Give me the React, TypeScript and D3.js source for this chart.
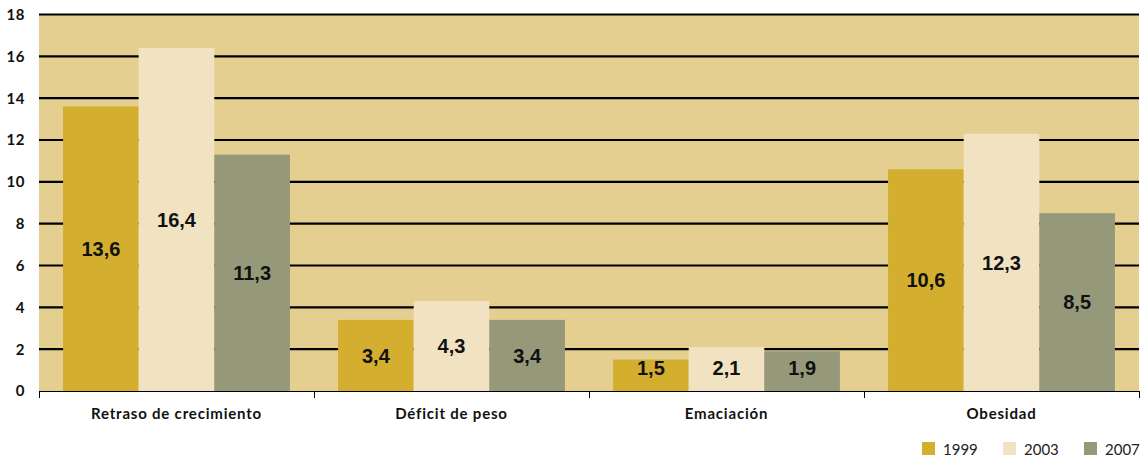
import React from "react";
import * as d3 from "d3";

const categories = ["Retraso de crecimiento", "Déficit de peso", "Emaciación", "Obesidad"];
const seriesNames = ["1999", "2003", "2007"];
const values1999 = [13.6, 3.4, 1.5, 10.6];
const values2003 = [16.4, 4.3, 2.1, 12.3];
const values2007 = [11.3, 3.4, 1.9, 8.5];
const yTicks = [0, 2, 4, 6, 8, 10, 12, 14, 16, 18];
const colors = ["#D4AE2E", "#F1E3C2", "#95997A"];

const W = 1141;
const H = 460;
const margin = { left: 39, right: 2, top: 14.5, bottom: 69 };

export default function App() {
  const series = [values1999, values2003, values2007];
  const x0 = d3
    .scaleBand<string>()
    .domain(categories)
    .range([margin.left, W - margin.right])
    .paddingInner(0.175)
    .paddingOuter(0.0875);
  const step = (W - margin.right - margin.left) / categories.length;
  const x1 = d3.scaleBand<string>().domain(seriesNames).range([0, x0.bandwidth()]);
  const y = d3.scaleLinear().domain([0, 18]).range([H - margin.bottom, margin.top]);
  const fmt = (v: number) => d3.format(".1f")(v).replace(".", ",");
  const catStart = (i: number) => margin.left + i * step;

  return (
    <svg width={W} height={H} style={{ position: "absolute", left: 0, top: 0 }}>
      <rect x={margin.left} y={y(18)} width={W - margin.right - margin.left} height={y(0) - y(18)} fill="#E4CF91" />
      {yTicks.filter((t) => t > 0).map((t) => (
        <line key={t} x1={margin.left} x2={W - margin.right} y1={y(t)} y2={y(t)} stroke="#000" strokeWidth={2.2} />
      ))}
      {categories.map((c, i) =>
        series.map((s, j) => {
          const bx = (x0(c) as number) + (x1(seriesNames[j]) as number);
          return (
            <rect key={c + j} x={bx} y={y(s[i])} width={x1.bandwidth()} height={y(0) - y(s[i])} fill={colors[j]} />
          );
        })
      )}
      {categories.map((c, i) =>
        series.map((s, j) => {
          const bx = (x0(c) as number) + (x1(seriesNames[j]) as number) + x1.bandwidth() / 2;
          const mid = Math.min((y(s[i]) + y(0)) / 2, y(0) - 23);
          return (
            <text key={"l" + c + j} x={bx} y={mid} dy="0.36em" textAnchor="middle"
              fontFamily="Liberation Sans, Arial, sans-serif" fontWeight="bold" fontSize={20} fill="#111">
              {fmt(s[i])}
            </text>
          );
        })
      )}
      <line x1={margin.left} x2={W - margin.right} y1={y(0) + 0.5} y2={y(0) + 0.5} stroke="#000" strokeWidth={1} />
      {d3.range(categories.length + 1).map((i) => (
        <line key={"t" + i} x1={catStart(i) + 0.5} x2={catStart(i) + 0.5} y1={y(0)} y2={y(0) + 7} stroke="#000" strokeWidth={1} />
      ))}
      {yTicks.map((t) => (
        <text key={"y" + t} x={25} y={y(t)} dy="0.36em" textAnchor="end"
          fontFamily="Lato, sans-serif" fontWeight="bold" fontSize={15} letterSpacing={0.5} fill="#111">
          {t}
        </text>
      ))}
      {categories.map((c, i) => (
        <text key={"c" + c} x={catStart(i) + step / 2} y={419} textAnchor="middle"
          fontFamily="Lato, sans-serif" fontWeight="bold" fontSize={15} letterSpacing={0.8} fill="#111">
          {c}
        </text>
      ))}
      {seriesNames.map((n, j) => (
        <g key={"lg" + n} transform={`translate(${922 + j * 81},442)`}>
          <rect x={0} y={0} width={13} height={13} fill={colors[j]} />
          <text x={21} y={13} fontFamily="Lato, sans-serif" fontSize={15} fill="#222">{n}</text>
        </g>
      ))}
    </svg>
  );
}
